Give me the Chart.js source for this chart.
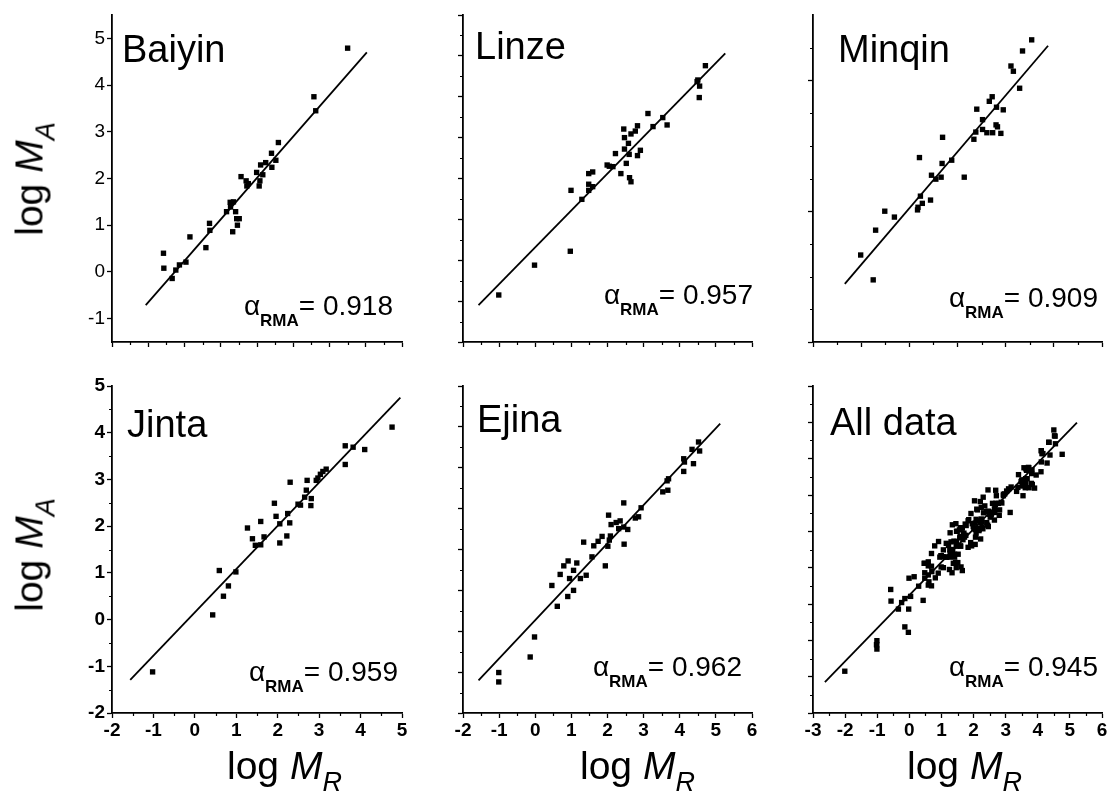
<!DOCTYPE html>
<html>
<head>
<meta charset="utf-8">
<script src="https://cdn.jsdelivr.net/npm/chart.js@4.4.1/dist/chart.umd.min.js"></script>
<style>
  body {
    margin: 0;
    width: 1109px;
    height: 795px;
    position: relative;
    overflow: hidden;
    background: #fff;
    font-family: "Liberation Sans", Arial, sans-serif;
    color: #000;
  }
  canvas { position: absolute; }
  .title { position: absolute; font-size: 38px; line-height: 38px; white-space: nowrap; }
  .alpha { position: absolute; font-size: 28px; line-height: 28px; white-space: nowrap; }
  .alpha sub { font-size: 17px; font-weight: bold; vertical-align: -11px; line-height: 0; }
  .axt { position: absolute; font-size: 39px; line-height: 39px; height: 39px; white-space: nowrap; }
  .axt sub { font-size: 27px; vertical-align: -12px; line-height: 0; font-style: italic; }
  .ytitle { transform: translate(-50%, -50%) rotate(-90deg); }
</style>
</head>
<body>
<script>
// points, [log MR, log MA]
const baiyin = [
  [4.50, 4.79], [3.57, 3.75], [3.62, 3.45], [2.59, 2.77], [2.40, 2.54], [2.52, 2.39],
  [2.24, 2.34], [2.41, 2.24], [2.10, 2.29], [1.99, 2.13], [2.16, 2.08], [2.08, 1.95],
  [2.06, 1.84], [1.56, 2.04], [1.70, 1.95], [1.72, 1.84], [1.76, 1.89], [1.26, 1.49],
  [1.35, 1.50], [1.27, 1.39], [1.16, 1.29], [1.41, 1.29], [1.44, 1.14], [1.51, 1.14],
  [1.46, 1.00], [1.33, 0.86], [0.69, 1.04], [0.70, 0.89], [0.59, 0.52], [0.15, 0.75],
  [0.04, 0.21], [-0.14, 0.15], [-0.24, 0.04], [-0.34, -0.14], [-0.58, 0.40], [-0.57, 0.08]
];
const linze = [
  [3.71, 3.76], [3.50, 3.41], [3.55, 3.26], [3.54, 2.98], [3.48, 3.37], [2.12, 2.59],
  [2.53, 2.49], [2.26, 2.27], [2.65, 2.31], [1.45, 2.21], [1.83, 2.29], [1.77, 2.16],
  [1.65, 2.09], [1.47, 2.00], [1.58, 1.86], [1.47, 1.72], [1.91, 1.69], [1.22, 1.61],
  [1.60, 1.59], [1.83, 1.56], [1.52, 1.37], [0.99, 1.33], [1.05, 1.30], [1.15, 1.29],
  [1.37, 1.12], [1.61, 1.02], [1.65, 0.92], [0.48, 1.12], [0.59, 1.16], [0.48, 0.86],
  [0.59, 0.80], [0.48, 0.71], [-0.01, 0.71], [0.29, 0.49], [-0.03, -0.78], [-1.02, -1.12],
  [-2.01, -1.85]
];
const minqin = [
  [4.54, 4.62], [4.35, 4.45], [4.11, 4.22], [4.16, 4.14], [4.29, 3.88], [3.72, 3.75],
  [3.66, 3.68], [3.81, 3.59], [3.95, 3.55], [3.40, 3.56], [3.52, 3.40], [3.80, 3.32],
  [3.83, 3.29], [3.38, 3.21], [3.52, 3.25], [3.61, 3.20], [3.73, 3.20], [3.90, 3.19],
  [3.34, 3.10], [2.69, 3.13], [2.21, 2.82], [2.88, 2.78], [2.68, 2.73], [2.46, 2.55],
  [2.55, 2.49], [2.66, 2.52], [3.14, 2.52], [2.23, 2.23], [2.27, 2.12], [2.17, 2.02],
  [2.18, 2.06], [2.44, 2.17], [1.49, 2.00], [1.69, 1.91], [1.30, 1.71], [0.99, 1.33],
  [1.25, 0.95]
];
const jinta = [
  [4.76, 4.12], [4.10, 3.64], [3.82, 3.69], [3.63, 3.72], [3.63, 3.32], [3.17, 3.22],
  [3.09, 3.17], [3.03, 3.11], [2.97, 3.03], [2.93, 2.98], [2.71, 2.98], [2.69, 2.77],
  [2.65, 2.62], [2.81, 2.59], [2.80, 2.44], [2.49, 2.47], [2.55, 2.45], [2.30, 2.94],
  [1.92, 2.49], [1.96, 2.21], [2.24, 2.27], [2.29, 2.07], [2.05, 2.05], [1.59, 2.10],
  [1.27, 1.96], [1.39, 1.73], [1.67, 1.77], [1.59, 1.60], [1.46, 1.59], [2.22, 1.79],
  [2.05, 1.64], [0.59, 1.05], [0.99, 1.02], [0.81, 0.72], [0.69, 0.50], [0.43, 0.10],
  [-1.02, -1.12]
];
const ejina = [
  [4.52, 4.63], [4.55, 4.41], [4.34, 4.45], [4.38, 4.10], [4.11, 4.22], [4.13, 4.14],
  [4.11, 3.91], [3.69, 3.73], [3.65, 3.68], [3.67, 3.45], [3.53, 3.41], [2.93, 3.02],
  [2.86, 2.80], [2.77, 2.77], [2.45, 3.14], [2.03, 2.84], [2.35, 2.70], [2.24, 2.66],
  [2.10, 2.61], [2.31, 2.51], [2.45, 2.55], [2.56, 2.49], [2.08, 2.33], [2.05, 2.23],
  [2.01, 2.08], [2.46, 2.13], [1.85, 2.32], [1.74, 2.20], [1.62, 2.09], [1.34, 2.18],
  [1.57, 1.82], [1.94, 1.60], [1.41, 1.37], [1.25, 1.29], [1.15, 1.67], [1.06, 1.49],
  [0.95, 1.29], [0.91, 1.72], [0.79, 1.60], [0.69, 1.39], [0.46, 1.12], [1.06, 1.00],
  [0.90, 0.85], [0.61, 0.61], [-0.02, -0.14], [-0.14, -0.63], [-1.01, -1.01], [-1.01, -1.24]
];
// the last panel pools the five stations
const allData = [...baiyin, ...linze, ...minqin, ...jinta, ...ejina];

// RMA fit lines, end points
const baiyinFit = [[-1.07, -0.71], [5.03, 4.70]];
const linzeFit = [[-2.57, -2.10], [4.26, 4.06]];
const minqinFit = [[0.66, 0.89], [4.88, 4.53]];
const jintaFit = [[-1.56, -1.29], [4.96, 4.75]];
const ejinaFit = [[-1.57, -1.20], [5.12, 5.08]];
const allFit = [[-2.63, -2.15], [5.22, 4.99]];

const stationNames = ["Baiyin", "Linze", "Minqin", "Jinta", "Ejina", "All data"];
const alphaValues = ["0.918", "0.957", "0.909", "0.959", "0.962", "0.945"];

// major tick values per axis
const baiyinXTicks = [-2, -1, 0, 1, 2, 3, 4, 5, 6];
const baiyinYTicks = [-1, 0, 1, 2, 3, 4, 5];
const linzeXTicks = [-3, -2, -1, 0, 1, 2, 3, 4, 5];
const linzeYTicks = [-3, -2, -1, 0, 1, 2, 3, 4, 5];
const minqinXTicks = [0, 1, 2, 3, 4, 5, 6];
const minqinYTicks = [0, 2, 4];
const jintaXTicks = [-2, -1, 0, 1, 2, 3, 4, 5];
const jintaYTicks = [-2, -1, 0, 1, 2, 3, 4, 5];
const ejinaXTicks = [-2, -1, 0, 1, 2, 3, 4, 5, 6];
const ejinaYTicks = [-2, -1, 0, 1, 2, 3, 4, 5, 6];
const allXTicks = [-3, -2, -1, 0, 1, 2, 3, 4, 5, 6];
const allYTicks = [-3, -2, -1, 0, 1, 2, 3, 4, 5, 6];

Chart.defaults.font.family = '"Liberation Sans", Arial, sans-serif';
Chart.defaults.color = "#000";

// half-step ticks that are not majors
const halfSteps = (min, max, majors) => {
  const out = [];
  for (let k = Math.ceil(min * 2); k <= Math.floor(max * 2); k++) {
    const v = k / 2;
    if (!majors.includes(v)) out.push(v);
  }
  return out;
};

const minorTicks = {
  id: "minorTicks",
  afterDraw(chart, args, opts) {
    const { ctx, chartArea, scales } = chart;
    ctx.save();
    ctx.strokeStyle = "#000";
    ctx.lineWidth = 1.2;
    ctx.beginPath();
    (opts.x || []).forEach((v) => {
      const px = Math.round(scales.x.getPixelForValue(v)) + 0.5;
      ctx.moveTo(px, chartArea.bottom);
      ctx.lineTo(px, chartArea.bottom + 3);
    });
    (opts.y || []).forEach((v) => {
      const py = Math.round(scales.y.getPixelForValue(v)) + 0.5;
      ctx.moveTo(chartArea.left, py);
      ctx.lineTo(chartArea.left - 3, py);
    });
    ctx.stroke();
    ctx.restore();
  },
};

const colLeft = [112, 463, 813];
const colRight = [402, 752, 1102];
const rowTop = [15, 386];
const rowBottom = [342, 713];

const panels = [
  { pts: baiyin, fit: baiyinFit, x: [-2, 6], y: [-1.5, 5.5], xt: baiyinXTicks, yt: baiyinYTicks,
    xLab: false, yLab: true, yMinor: false, col: 0, row: 0 },
  { pts: linze, fit: linzeFit, x: [-3, 5], y: [-3, 5], xt: linzeXTicks, yt: linzeYTicks,
    xLab: false, yLab: false, yMinor: true, col: 1, row: 0 },
  { pts: minqin, fit: minqinFit, x: [0, 6], y: [0, 5], xt: minqinXTicks, yt: minqinYTicks,
    xLab: false, yLab: false, yMinor: true, col: 2, row: 0 },
  { pts: jinta, fit: jintaFit, x: [-2, 5], y: [-2, 5], xt: jintaXTicks, yt: jintaYTicks,
    xLab: true, yLab: true, yMinor: true, col: 0, row: 1 },
  { pts: ejina, fit: ejinaFit, x: [-2, 6], y: [-2, 6], xt: ejinaXTicks, yt: ejinaYTicks,
    xLab: true, yLab: false, yMinor: true, col: 1, row: 1 },
  { pts: allData, fit: allFit, x: [-3, 6], y: [-3, 6], xt: allXTicks, yt: allYTicks,
    xLab: true, yLab: false, yMinor: true, col: 2, row: 1 },
];

const AXW = 70, AXH = 40, PADT = 15, PADR = 15;

panels.forEach((p) => {
  const L = colLeft[p.col], R = colRight[p.col];
  const T = rowTop[p.row], B = rowBottom[p.row];
  const canvas = document.createElement("canvas");
  canvas.width = R - L + AXW + PADR;
  canvas.height = B - T + PADT + AXH;
  canvas.style.left = L - AXW + "px";
  canvas.style.top = T - PADT + "px";
  document.body.appendChild(canvas);

  const weight = p.row === 1 ? "bold" : "normal";
  const gridOpts = {
    display: true,
    drawOnChartArea: false,
    drawTicks: true,
    tickLength: 5,
    tickWidth: 1.3,
    tickColor: "#000",
  };

  new Chart(canvas, {
    type: "scatter",
    data: {
      datasets: [
        {
          data: p.pts.map(([x, y]) => ({ x, y })),
          pointStyle: "rect",
          pointRadius: 3.8,
          pointBackgroundColor: "#000",
          pointBorderWidth: 0,
        },
        {
          data: p.fit.map(([x, y]) => ({ x, y })),
          showLine: true,
          pointRadius: 0,
          borderColor: "#000",
          borderWidth: 1.8,
        },
      ],
    },
    options: {
      responsive: false,
      animation: false,
      events: [],
      layout: { padding: { top: PADT, right: PADR, left: 0, bottom: 0 } },
      plugins: {
        legend: { display: false },
        tooltip: { enabled: false },
        minorTicks: {
          x: halfSteps(p.x[0], p.x[1], p.xt),
          y: p.yMinor ? halfSteps(p.y[0], p.y[1] - 0.5, p.yt) : [],
        },
      },
      scales: {
        x: {
          type: "linear",
          min: p.x[0],
          max: p.x[1],
          afterBuildTicks: (s) => { s.ticks = p.xt.map((v) => ({ value: v })); },
          afterFit: (s) => { s.height = AXH; },
          grid: gridOpts,
          border: { display: true, color: "#000", width: 1.8 },
          ticks: {
            autoSkip: false,
            maxRotation: 0,
            padding: 1,
            color: "#000",
            font: { size: 19, weight },
            callback: (v) => (p.xLab ? String(v) : ""),
          },
        },
        y: {
          type: "linear",
          min: p.y[0],
          max: p.y[1],
          afterBuildTicks: (s) => { s.ticks = p.yt.map((v) => ({ value: v })); },
          afterFit: (s) => { s.width = AXW; },
          grid: gridOpts,
          border: { display: true, color: "#000", width: 1.8 },
          ticks: {
            autoSkip: false,
            padding: 2,
            color: "#000",
            font: { size: 19, weight },
            callback: (v) => (p.yLab ? String(v) : ""),
          },
        },
      },
    },
    plugins: [minorTicks],
  });
});

// station names and exponents
const titlePos = [[122, 62], [475, 59], [838, 62], [127, 437], [477, 432], [830, 435]];
const alphaPos = [[393, 316], [753, 305], [1098, 308], [398, 682], [742, 677], [1098, 677]];

stationNames.forEach((name, i) => {
  const t = document.createElement("div");
  t.className = "title";
  t.textContent = name;
  t.style.left = titlePos[i][0] + "px";
  t.style.top = titlePos[i][1] - 32 + "px";
  document.body.appendChild(t);

  const a = document.createElement("div");
  a.className = "alpha";
  a.innerHTML = "\u03b1<sub>RMA</sub>= " + alphaValues[i];
  a.style.right = 1109 - alphaPos[i][0] + "px";
  a.style.top = alphaPos[i][1] - 24 + "px";
  document.body.appendChild(a);
});

// axis titles
[179, 555].forEach((cy) => {
  const d = document.createElement("div");
  d.className = "axt ytitle";
  d.innerHTML = "log <i>M</i><sub>A</sub>";
  d.style.left = "29px";
  d.style.top = cy + "px";
  document.body.appendChild(d);
});
[227, 580, 907].forEach((lx) => {
  const d = document.createElement("div");
  d.className = "axt";
  d.innerHTML = "log <i>M</i><sub>R</sub>";
  d.style.left = lx + "px";
  d.style.top = 779 - 33 + "px";
  document.body.appendChild(d);
});
</script>
</body>
</html>
